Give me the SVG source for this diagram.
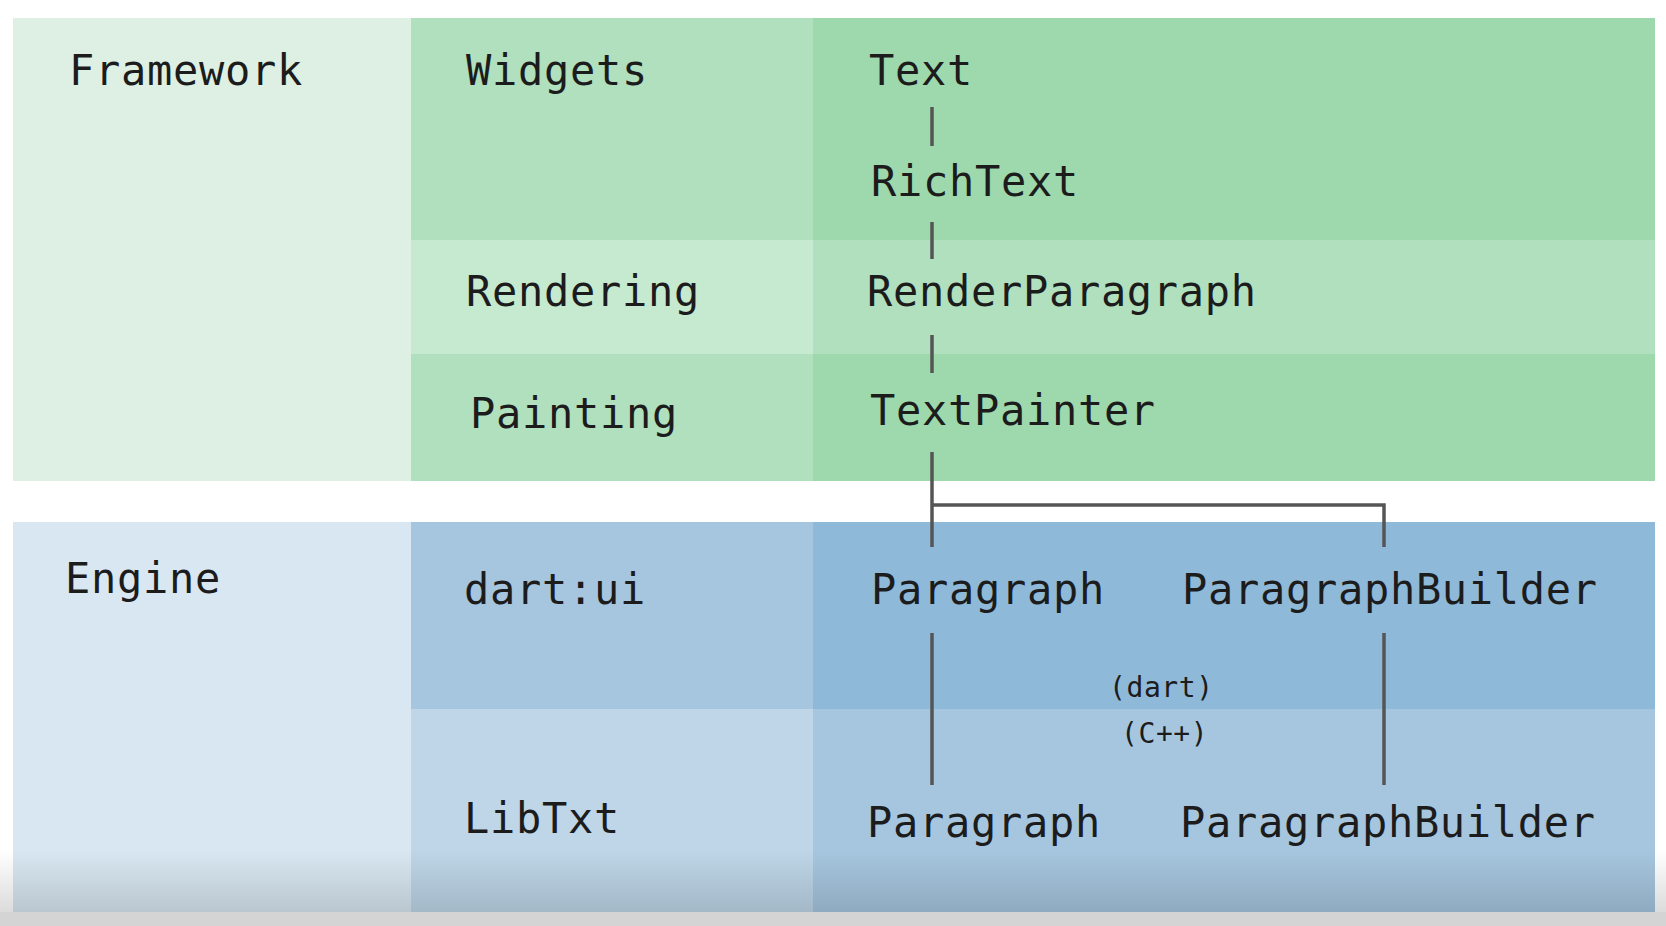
<svg xmlns="http://www.w3.org/2000/svg" width="1666" height="926" viewBox="0 0 1666 926">
<defs>
<style>
.t{font-family:"DejaVu Sans Mono","Liberation Mono",monospace;font-size:42px;letter-spacing:0.7px;fill:#1c1c1c}
.s{font-family:"DejaVu Sans Mono","Liberation Mono",monospace;font-size:28px;letter-spacing:0.6px;fill:#1c1c1c}
.c{stroke:#555;stroke-width:3.5;fill:none}
</style>
<linearGradient id="shade" x1="0" y1="0" x2="0" y2="1">
<stop offset="0" stop-color="#000" stop-opacity="0"/>
<stop offset="1" stop-color="#000" stop-opacity="0.14"/>
</linearGradient>
</defs>
<rect x="0" y="0" width="1666" height="926" fill="#ffffff"/>
<rect x="0" y="912" width="1666" height="14" fill="#d4d4d4"/>

<g id="framework">
<rect x="13" y="18" width="398" height="463" fill="#ddf0e3"/>
<text class="t" x="69" y="85">Framework</text>
</g>
<g id="widgets">
<rect x="411" y="18" width="402" height="222" fill="#b0e0bd"/>
<rect x="813" y="18" width="842" height="222" fill="#9dd9ad"/>
<text class="t" x="466" y="85">Widgets</text>
</g>
<g id="rendering">
<rect x="411" y="240" width="402" height="114" fill="#c5ead0"/>
<rect x="813" y="240" width="842" height="114" fill="#b0e0bd"/>
<text class="t" x="466" y="306">Rendering</text>
</g>
<g id="painting">
<rect x="411" y="354" width="402" height="127" fill="#b0e0bd"/>
<rect x="813" y="354" width="842" height="127" fill="#9dd9ad"/>
<text class="t" x="470" y="428">Painting</text>
</g>

<g id="engine">
<rect x="13" y="522" width="398" height="390" fill="#d8e7f1"/>
<text class="t" x="65" y="593">Engine</text>
</g>
<g id="dartui">
<rect x="411" y="522" width="402" height="187" fill="#a6c6df"/>
<rect x="813" y="522" width="842" height="187" fill="#8fb9d9"/>
<text class="t" x="464" y="604">dart:ui</text>
</g>
<g id="libtxt">
<rect x="411" y="709" width="402" height="203" fill="#bed6e8"/>
<rect x="813" y="709" width="842" height="203" fill="#a6c6df"/>
<text class="t" x="464" y="833">LibTxt</text>
</g>

<g id="node-text"><text class="t" x="869" y="85">Text</text></g>
<g id="node-richtext"><text class="t" x="871" y="196">RichText</text></g>
<g id="node-renderparagraph"><text class="t" x="867" y="306">RenderParagraph</text></g>
<g id="node-textpainter"><text class="t" x="870" y="425">TextPainter</text></g>
<g id="node-paragraph-dart"><text class="t" x="871" y="604">Paragraph</text></g>
<g id="node-paragraphbuilder-dart"><text class="t" x="1182" y="604">ParagraphBuilder</text></g>
<g id="node-paragraph-cpp"><text class="t" x="867" y="837">Paragraph</text></g>
<g id="node-paragraphbuilder-cpp"><text class="t" x="1180" y="837">ParagraphBuilder</text></g>
<g id="labels">
<text class="s" x="1109" y="697">(dart)</text>
<text class="s" x="1121" y="743">(C++)</text>
</g>

<g id="connectors">
<line class="c" x1="932" y1="107" x2="932" y2="146"/>
<line class="c" x1="932" y1="222" x2="932" y2="259"/>
<line class="c" x1="932" y1="335" x2="932" y2="373"/>
<polyline class="c" points="932,452 932,547"/>
<polyline class="c" points="932,505 1384,505 1384,547"/>
<line class="c" x1="932" y1="633" x2="932" y2="785"/>
<line class="c" x1="1384" y1="633" x2="1384" y2="785"/>
</g>

<rect x="0" y="850" width="1666" height="62" fill="url(#shade)"/>
</svg>
